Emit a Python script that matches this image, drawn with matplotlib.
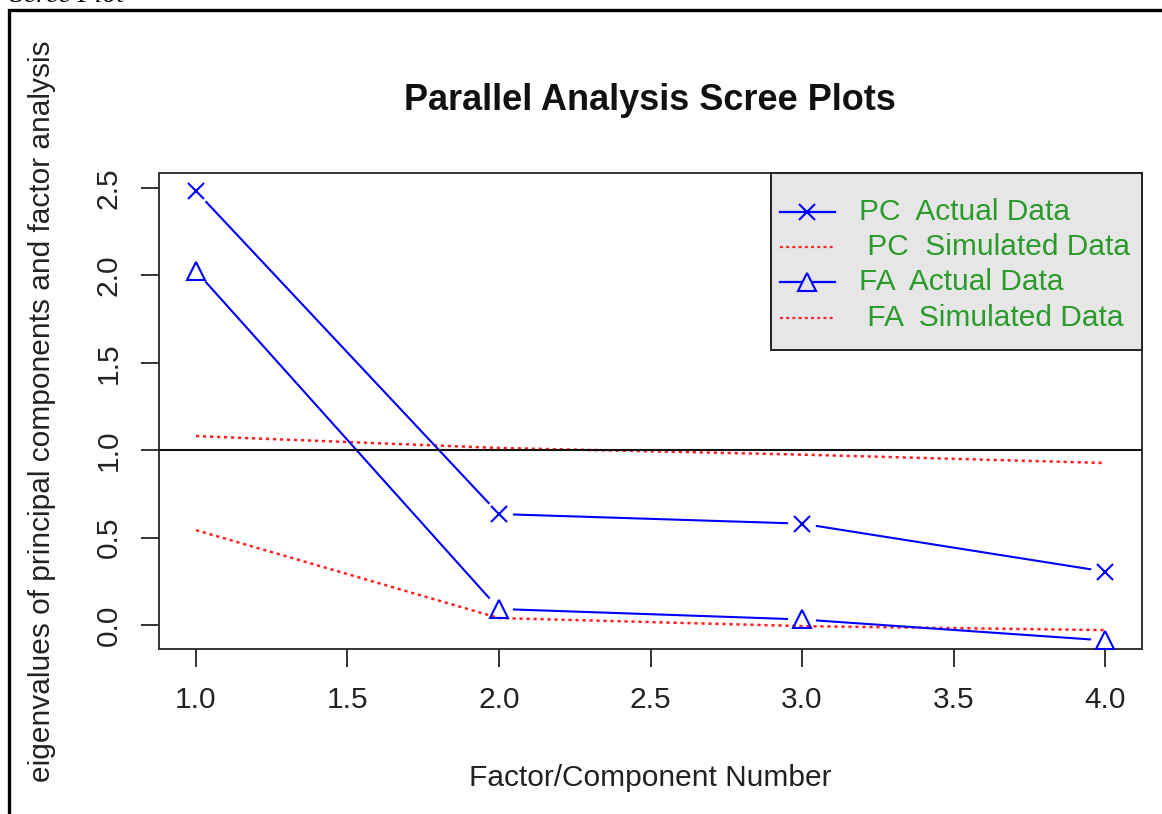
import numpy as np
import matplotlib.pyplot as plt
import matplotlib as mpl
from matplotlib.lines import Line2D
from matplotlib.patches import Rectangle

mpl.rcParams.update({
    'font.family': 'sans-serif',
    'font.sans-serif': ['Liberation Sans', 'Arial', 'DejaVu Sans'],
    'font.size': 21.5,
})

# data
factors = [1, 2, 3, 4]
pc_actual = [2.483, 0.635, 0.580, 0.306]
pc_simulated = [1.081, 1.013, 0.975, 0.927]
fa_actual = [2.025, 0.092, 0.032, -0.088]
fa_simulated = [0.543, 0.040, -0.006, -0.029]

legend_labels = ['PC  Actual Data', ' PC  Simulated Data',
                 'FA  Actual Data', ' FA  Simulated Data']
x_ticks = [1.0, 1.5, 2.0, 2.5, 3.0, 3.5, 4.0]
y_ticks = [0.0, 0.5, 1.0, 1.5, 2.0, 2.5]

W, H = 1162, 814
BLUE = '#0000ff'
RED = '#ff2020'
GREEN = '#2a9a2a'
DOT = (0, (1.3, 1.5))


def fx(px):
    return px / W


def fy(py):
    return 1 - py / H


def plot_b(ax, x, y, marker, ms, gap=15):
    # R's type="b": points joined by lines that stop short of the points
    pts = ax.transData.transform(np.column_stack([x, y]))
    inv = ax.transData.inverted()
    for p0, p1 in zip(pts[:-1], pts[1:]):
        d = p1 - p0
        u = d / np.hypot(*d)
        seg = inv.transform(np.array([p0 + u * gap, p1 - u * gap]))
        ax.plot(seg[:, 0], seg[:, 1], color=BLUE, lw=1.5, zorder=3)
    ax.plot(x, y, linestyle='none', marker=marker, ms=ms, mfc='none',
            mec=BLUE, mew=1.5, zorder=4, clip_on=False)


fig = plt.figure(figsize=(W / 100, H / 100), dpi=100)
ax = fig.add_axes([fx(159), fy(649), (1142 - 159) / W, (649 - 173) / H])
ax.set_xlim(0.878, 4.122)
ax.set_ylim(-0.137, 2.586)

ax.plot(factors, pc_simulated, color=RED, lw=1.8, ls=DOT, zorder=2)
ax.plot(factors, fa_simulated, color=RED, lw=1.8, ls=DOT, zorder=2)
plot_b(ax, factors, pc_actual, 'x', 11)
plot_b(ax, factors, fa_actual, '^', 13)
ax.axhline(1.0, color='#111111', lw=1.5, zorder=5)

ax.set_xticks(x_ticks)
ax.set_xticklabels([f'{t:.1f}' for t in x_ticks])
ax.set_yticks(y_ticks)
ax.set_yticklabels([f'{t:.1f}' for t in y_ticks], rotation=90, va='center')
ax.tick_params(axis='x', length=13, width=1.4, pad=14, colors='#333333',
               labelcolor='#222222')
ax.tick_params(axis='y', length=13, width=1.4, pad=13, colors='#333333',
               labelcolor='#222222')
for s in ax.spines.values():
    s.set_linewidth(1.4)
    s.set_color('#333333')

fig.text(fx(650), fy(101), 'Parallel Analysis Scree Plots', ha='center',
         va='center', fontsize=26, fontweight='bold', color='#111111')
fig.text(fx(650), fy(778), 'Factor/Component Number', ha='center',
         va='center', color='#222222')
fig.text(fx(42), fy(411),
         'eigenvalues of principal components and factor analysis',
         rotation=90, ha='center', va='center', color='#222222')

# legend box drawn the way R lays it out
fig.patches.append(Rectangle((fx(771), fy(350)), fx(1142) - fx(771),
                             fy(173) - fy(350), transform=fig.transFigure,
                             facecolor='#e6e6e6', edgecolor='#222222',
                             lw=1.4, zorder=6))
rows = [212, 247, 282, 318]
styles = [('-', BLUE, 'x', 11), (DOT, RED, None, 0),
          ('-', BLUE, '^', 13), (DOT, RED, None, 0)]
for py, (ls, col, mk, ms), lab in zip(rows, styles, legend_labels):
    fig.lines.append(Line2D([fx(780), fx(835)], [fy(py), fy(py)],
                            transform=fig.transFigure, color=col, ls=ls,
                            lw=1.6, zorder=7))
    if mk:
        fig.lines.append(Line2D([fx(807)], [fy(py)], transform=fig.transFigure,
                                marker=mk, ms=ms, mfc='#e6e6e6', mec=col,
                                mew=1.5, zorder=8))
    fig.text(fx(859), fy(py), lab, ha='left', va='center', color=GREEN,
             zorder=8)

# outer document frame and the clipped caption above it
fig.patches.append(Rectangle((fx(9), -0.05), 1.1, fy(10) + 0.05,
                             transform=fig.transFigure, fill=False,
                             edgecolor='black', lw=2.4))
fig.text(fx(10), fy(2.5), 'Scree Plot', ha='left', va='baseline', fontsize=20,
         family='Liberation Serif', style='italic')

fig.savefig('out.png', dpi=100)
